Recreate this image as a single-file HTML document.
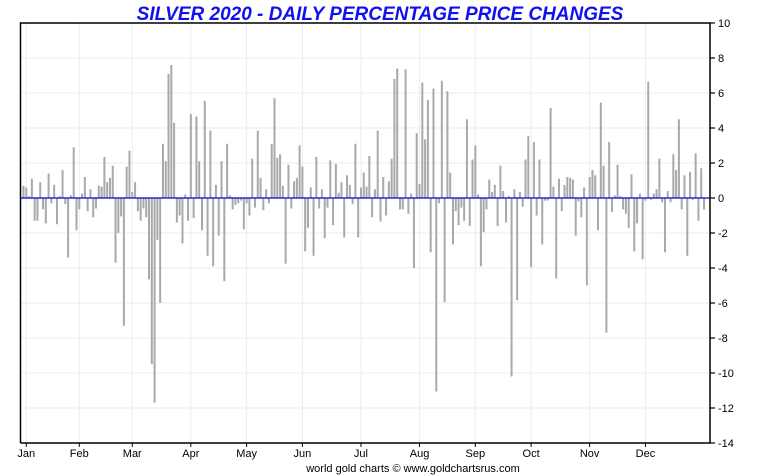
<!DOCTYPE html>
<html><head><meta charset="utf-8"><style>
body{margin:0;background:#fff;}
svg{display:block;font-family:"Liberation Sans",sans-serif;}
</style></head><body>
<svg id="chart" width="760" height="475" viewBox="0 0 760 475">
<text x="380" y="20" text-anchor="middle" font-size="19" font-weight="bold" font-style="italic" fill="#1010f0">SILVER 2020 - DAILY PERCENTAGE PRICE CHANGES</text>
<g id="grid"></g><g id="bars"></g><g id="axes"></g>
<text x="413" y="472" text-anchor="middle" font-size="11" fill="#000">world gold charts © www.goldchartsrus.com</text>
</svg>
<script>
const values=[0.7,0.6,0.1,1.1,-1.3,-1.3,0.9,-0.65,-1.45,1.4,-0.3,0.75,-1.5,0.1,1.6,-0.35,-3.4,0.15,2.9,-1.85,-0.65,0.25,1.2,-0.75,0.5,-1.1,-0.6,0.7,0.65,2.35,0.9,1.15,1.85,-3.7,-2.0,-1.05,-7.3,1.8,2.7,0.35,0.9,-0.75,-1.3,-0.6,-1.1,-4.65,-9.5,-11.7,-2.4,-6.0,3.1,2.1,7.1,7.6,4.3,-1.4,-1.0,-2.6,0.2,-1.3,4.8,-1.15,
4.65,2.1,-1.85,5.55,-3.3,3.85,-3.9,0.75,-2.15,2.1,-4.75,3.1,0.15,-0.65,-0.4,-0.3,-0.15,-1.8,-0.3,-1.0,2.25,-0.55,3.85,1.15,-0.7,0.5,-0.3,3.1,5.7,2.3,2.5,0.7,-3.75,1.9,-0.6,0.95,1.15,3.0,1.8,-3.05,-1.7,0.6,-3.3,2.35,-0.6,0.5,-2.3,-0.55,2.15,-1.55,1.95,0.3,0.9,-2.25,1.3,0.75,-0.35,3.1,-2.25,0.6,1.45,0.65,2.4,
-1.1,0.5,3.85,-1.35,1.2,-1.0,0.95,2.25,6.8,7.4,-0.65,-0.65,7.35,-0.9,0.25,-4.0,3.7,0.8,6.6,3.35,5.6,-3.1,6.25,-11.05,-0.3,6.7,-5.95,6.1,1.45,-2.65,-0.75,-1.55,-0.55,-1.3,4.5,-1.6,2.2,3.0,0.2,-3.9,-1.95,-0.65,1.05,0.35,0.75,-1.6,1.85,0.4,-1.4,0.1,-10.2,0.5,-5.85,0.35,-0.5,2.2,3.55,-3.95,3.2,-1.0,2.2,-2.65,-0.15,
-0.15,5.15,0.65,-4.6,1.1,-0.75,0.75,1.2,1.15,1.05,-2.15,-0.2,-1.1,0.6,-5.0,1.2,1.6,1.3,-1.85,5.45,1.85,-7.7,3.2,-0.8,0.15,1.9,0.1,-0.65,-0.9,-1.7,1.35,-3.05,-1.45,0.25,-3.5,-0.15,6.65,-0.1,0.25,0.5,2.25,-0.25,-3.1,0.4,-0.25,2.5,1.6,4.5,-0.65,1.3,-3.3,1.5,-0.1,2.55,-1.3,1.7,-0.65];
const months=["Jan","Feb","Mar","Apr","May","Jun","Jul","Aug","Sep","Oct","Nov","Dec"];
const monthStartIndex=[1,20,39,60,80,100,121,142,162,182,203,223];
const yTicks=[10,8,6,4,2,0,-2,-4,-6,-8,-10,-12,-14];
const L=20.5,R=710,T=23,B=443,yMax=10,yMin=-14,x0=23.5,x1=704;
const NS="http://www.w3.org/2000/svg";
function y(v){return T+(yMax-v)/(yMax-yMin)*(B-T);}
function x(i){return x0+i*(x1-x0)/(values.length-1);}
function mk(tag,attrs,parent){const e=document.createElementNS(NS,tag);for(const k in attrs)e.setAttribute(k,attrs[k]);document.getElementById(parent).appendChild(e);return e;}
yTicks.forEach(t=>{
  const g=mk('line',{x1:L,x2:R,y1:y(t),y2:y(t),stroke:'#e4eef8','stroke-width':1},'grid');
  
  
  const tk=mk('line',{x1:R,x2:R+5,y1:y(t),y2:y(t),stroke:'#000','stroke-width':1.2},'axes');
  
  
  const lb=mk('text',{x:R+8,y:y(t)+4,'font-size':11,fill:'#000'},'axes');
  lb.textContent=t;
  
  
});
months.forEach((m,k)=>{
  const xx=x(monthStartIndex[k]);
  const g=mk('line',{x1:xx,x2:xx,y1:T,y2:B,stroke:'#e4eef8','stroke-width':1},'grid');
  
  
  const tk=mk('line',{x1:xx,x2:xx,y1:B,y2:B+4,stroke:'#000','stroke-width':1},'axes');
  
  
  const lb=mk('text',{x:xx,y:B+14,'font-size':11,'text-anchor':'middle',fill:'#000'},'axes');
  lb.textContent=m;
  
  
});
values.forEach((v,i)=>{
  const top=Math.min(y(v),y(0)),h=Math.abs(y(v)-y(0));
  const b=mk('rect',{x:x(i)-1,y:top,width:2,height:Math.max(h,0.5),fill:'#a9a9a9'},'bars');
  
  
});
const z=mk('line',{x1:L,x2:R,y1:y(0),y2:y(0),stroke:'#0000dd','stroke-width':1.3},'axes');


const fr=mk('path',{d:`M${L},${B} L${L},${T} L${R},${T} L${R},${B} L${L},${B}`,fill:'none',stroke:'#000','stroke-width':1.5},'axes');


</script>
</body></html>
